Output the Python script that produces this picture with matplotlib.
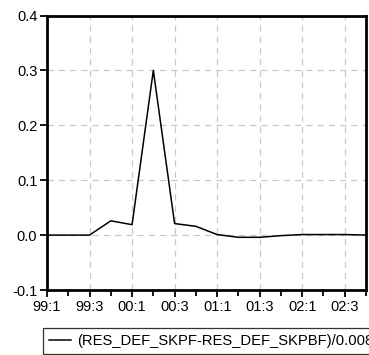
import matplotlib
matplotlib.use("Agg")
import matplotlib.pyplot as plt
from matplotlib.ticker import FixedLocator

plt.rcParams['font.family'] = ['Liberation Sans', 'DejaVu Sans']

# quarters 1999Q1 .. 2002Q4
quarters = ["99:1", "99:2", "99:3", "99:4", "00:1", "00:2", "00:3", "00:4",
            "01:1", "01:2", "01:3", "01:4", "02:1", "02:2", "02:3", "02:4"]
values = [0.0, 0.0, 0.0, 0.026, 0.019, 0.300, 0.021, 0.016,
          0.001, -0.004, -0.004, -0.001, 0.001, 0.001, 0.001, 0.0]
series_name = "(RES_DEF_SKPF-RES_DEF_SKPBF)/0.0088"
y_ticks = [-0.1, 0.0, 0.1, 0.2, 0.3, 0.4]

x = list(range(len(quarters)))

fig = plt.figure(figsize=(3.69, 3.55), dpi=100)
ax = fig.add_axes([47 / 369, 1 - 290 / 355, 319 / 369, 274.5 / 355])

line, = ax.plot(x, values, color='black', linewidth=1.1, label=series_name, zorder=3)

ax.set_xlim(0, 15)
ax.set_ylim(-0.1, 0.4)

ax.xaxis.set_major_locator(FixedLocator(x[::2]))
ax.set_xticklabels(quarters[::2])
ax.xaxis.set_minor_locator(FixedLocator(x[1::2]))
ax.set_yticks(y_ticks)
ax.set_yticklabels(["%.1f" % v for v in y_ticks])

ax.tick_params(axis='both', which='major', direction='out', length=5, width=1.3,
               labelsize=10.5, color='black', pad=2)
ax.tick_params(axis='x', which='minor', direction='out', length=4, width=1.3)

ax.grid(True, which='major', color='#c8c8c8', linestyle=(0, (5, 4)), linewidth=0.9, zorder=0)

for s in ax.spines.values():
    s.set_linewidth(2.0)
    s.set_color('black')

leg = fig.legend(handles=[line], loc='lower left', bbox_to_anchor=(43 / 369, 1 / 355),
                 fontsize=10.6, frameon=True, fancybox=False, handlelength=1.5,
                 handletextpad=0.4, borderpad=0.4, borderaxespad=0)
leg.get_frame().set_edgecolor('black')
leg.get_frame().set_linewidth(0.9)

fig.savefig("out.png", dpi=100)
